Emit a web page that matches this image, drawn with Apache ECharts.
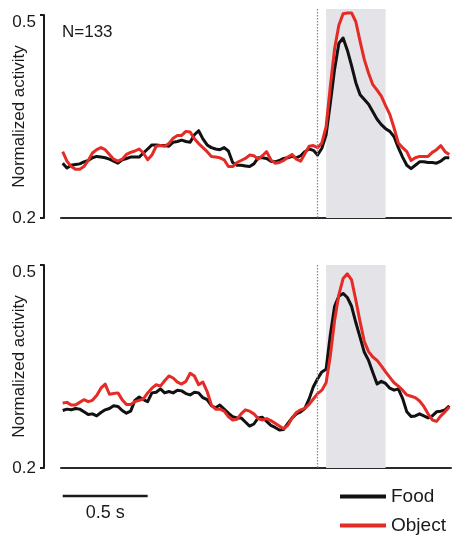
<!DOCTYPE html>
<html>
<head>
<meta charset="utf-8">
<script src="https://cdn.jsdelivr.net/npm/echarts@6/dist/echarts.min.js"></script>
<style>
  html, body { margin: 0; padding: 0; background: #fff; }
  #chart { width: 455px; height: 535px; }
</style>
</head>
<body>
<div id="chart"></div>
<script>
// Sample times (s) relative to stimulus onset, 25 ms bins
const T_START = -1.5;
const T_STEP = 0.025;
const N_BINS = 92;
const TIME = Array.from({ length: N_BINS }, (_, i) => +(T_START + T_STEP * i).toFixed(3));

// Upper panel (N=133)
const topFood = [
  0.281,0.274,0.278,0.279,0.280,0.283,0.285,0.289,0.291,0.290,
  0.289,0.287,0.284,0.281,0.286,0.288,0.290,0.290,0.290,0.296,
  0.302,0.308,0.308,0.307,0.307,0.306,0.312,0.313,0.315,0.313,
  0.312,0.323,0.329,0.317,0.308,0.304,0.302,0.301,0.304,0.299,
  0.282,0.278,0.278,0.277,0.276,0.280,0.289,0.289,0.288,0.284,
  0.283,0.285,0.288,0.289,0.291,0.289,0.292,0.298,0.302,0.300,
  0.293,0.303,0.323,0.370,0.420,0.458,0.466,0.448,0.425,0.400,
  0.382,0.375,0.368,0.357,0.346,0.338,0.332,0.328,0.320,0.304,
  0.290,0.278,0.273,0.278,0.283,0.283,0.282,0.282,0.281,0.284,
  0.289,0.289
];
const topObject = [
  0.298,0.284,0.276,0.272,0.272,0.276,0.285,0.296,0.301,0.304,
  0.301,0.294,0.287,0.284,0.287,0.294,0.297,0.299,0.302,0.296,
  0.286,0.293,0.306,0.307,0.306,0.310,0.318,0.322,0.322,0.328,
  0.327,0.317,0.310,0.304,0.298,0.291,0.290,0.289,0.286,0.276,
  0.276,0.282,0.285,0.288,0.293,0.292,0.287,0.292,0.298,0.286,
  0.281,0.282,0.285,0.290,0.294,0.287,0.284,0.295,0.306,0.307,
  0.304,0.311,0.335,0.395,0.450,0.485,0.502,0.503,0.503,0.490,
  0.461,0.434,0.414,0.397,0.389,0.380,0.366,0.353,0.333,0.311,
  0.304,0.298,0.285,0.289,0.291,0.291,0.291,0.297,0.301,0.307,
  0.298,0.294
];

// Lower panel
const botFood = [
  0.285,0.287,0.286,0.288,0.287,0.283,0.279,0.280,0.277,0.282,
  0.286,0.288,0.292,0.291,0.285,0.281,0.284,0.300,0.305,0.301,
  0.298,0.311,0.312,0.317,0.311,0.313,0.311,0.315,0.314,0.310,
  0.308,0.312,0.311,0.304,0.301,0.292,0.289,0.293,0.287,0.281,
  0.276,0.274,0.274,0.268,0.262,0.265,0.274,0.275,0.269,0.263,
  0.260,0.256,0.257,0.266,0.274,0.280,0.283,0.288,0.302,0.320,
  0.332,0.342,0.346,0.397,0.439,0.454,0.458,0.452,0.439,0.415,
  0.393,0.371,0.359,0.341,0.324,0.328,0.325,0.318,0.315,0.317,
  0.303,0.283,0.276,0.277,0.280,0.277,0.274,0.277,0.283,0.284,
  0.286,0.292
];
const botObject = [
  0.296,0.297,0.293,0.293,0.297,0.301,0.298,0.300,0.307,0.318,
  0.324,0.309,0.310,0.311,0.301,0.294,0.294,0.298,0.300,0.302,
  0.311,0.318,0.323,0.321,0.329,0.336,0.333,0.327,0.324,0.328,
  0.340,0.336,0.323,0.327,0.313,0.293,0.287,0.287,0.284,0.276,
  0.271,0.272,0.280,0.286,0.284,0.280,0.273,0.271,0.273,0.270,
  0.266,0.262,0.258,0.263,0.274,0.282,0.286,0.288,0.294,0.302,
  0.310,0.315,0.326,0.366,0.418,0.456,0.480,0.487,0.478,0.448,
  0.416,0.387,0.372,0.364,0.359,0.351,0.342,0.334,0.326,0.321,
  0.315,0.308,0.306,0.304,0.299,0.291,0.280,0.271,0.269,0.277,
  0.283,0.290
];

// Axis and annotation values
const Y_MIN = 0.2;
const Y_MAX = 0.5;
const Y_TICKS = [0.2, 0.5];
const TOP_BAND_MAX = 0.509;     // shaded window in the upper panel reaches a little past 0.5
const RESPONSE_WINDOW = [0.05, 0.4];
const ONSET = 0;
const SCALE_BAR = [-1.5, -1.0];
const SCALE_LABEL = '0.5 s';
const N_LABEL = 'N=133';
const SERIES_NAMES = ['Food', 'Object'];

const FONT = '"Liberation Sans", Arial, sans-serif';
const INK = '#1a1a1a';
const FOOD_COLOR = '#111111';
const OBJECT_COLOR = '#e52b25';
const TRACE_WIDTH = 3;

const PX_PER_UNIT = 203 / (Y_MAX - Y_MIN);
const pair = arr => arr.map((v, i) => [TIME[i], v]);

// Visible value axis ("]" shaped, offset to the left of the plot)
function visibleYAxis(gridIndex) {
  return {
    gridIndex,
    type: 'value',
    min: Y_MIN,
    max: Y_MAX,
    interval: 0.3,
    offset: 17,
    name: 'Normalized activity',
    nameLocation: 'middle',
    nameGap: 16,
    nameMoveOverlap: false,
    nameTextStyle: { fontFamily: FONT, fontSize: 17, color: INK },
    axisLine: { show: true, onZero: false, lineStyle: { color: INK, width: 2 } },
    axisTick: { show: true, length: 4, customValues: Y_TICKS, lineStyle: { color: INK, width: 2 } },
    axisLabel: {
      customValues: Y_TICKS,
      margin: 8,
      fontFamily: FONT, fontSize: 17, color: INK, lineHeight: 14,
      // the top label hangs below its tick
      formatter: v => v > 0.4 ? '\n' + v.toFixed(1) : v.toFixed(1)
    },
    splitLine: { show: false }
  };
}

function hiddenYAxis(gridIndex, max) {
  return {
    gridIndex, type: 'value', min: Y_MIN, max: max, show: false,
    axisLine: { show: false, onZero: false }, splitLine: { show: false }
  };
}

function timeAxis(gridIndex, showLine) {
  return {
    gridIndex,
    type: 'value',
    min: -1.51,
    max: 0.785,
    show: showLine,
    axisLine: { show: showLine, onZero: false, lineStyle: { color: '#2a2a2a', width: 2 } },
    axisTick: { show: false },
    axisLabel: { show: false },
    splitLine: { show: false }
  };
}

function panelSeries(idx, food, object, topVal) {
  return [
    {
      name: SERIES_NAMES[0], type: 'line', xAxisIndex: idx, yAxisIndex: idx,
      data: pair(food), showSymbol: false, symbol: 'none', clip: false,
      lineStyle: { color: FOOD_COLOR, width: TRACE_WIDTH, join: 'round' },
      itemStyle: { color: FOOD_COLOR },
      z: 3,
      markArea: {
        silent: true,
        itemStyle: { color: '#e3e3e8' },
        data: [[{ coord: [RESPONSE_WINDOW[0], topVal] }, { coord: [RESPONSE_WINDOW[1], Y_MIN] }]]
      },
      markLine: {
        silent: true, symbol: ['none', 'none'],
        label: { show: false },
        lineStyle: { color: '#8a8a8a', width: 1.3, type: [1.5, 1.5] },
        data: [[{ coord: [ONSET, topVal] }, { coord: [ONSET, Y_MIN] }]]
      }
    },
    {
      name: SERIES_NAMES[1], type: 'line', xAxisIndex: idx, yAxisIndex: idx,
      data: pair(object), showSymbol: false, symbol: 'none', clip: false,
      lineStyle: { color: OBJECT_COLOR, width: TRACE_WIDTH, join: 'round' },
      itemStyle: { color: OBJECT_COLOR },
      z: 4
    }
  ];
}

const chart = echarts.init(document.getElementById('chart'), null, { renderer: 'canvas' });

const G = { left: 61, right: 4, containLabel: false, outerBoundsMode: 'none' };
const topExtra = (TOP_BAND_MAX - Y_MAX) * PX_PER_UNIT;

chart.setOption({
  animation: false,
  backgroundColor: '#ffffff',
  textStyle: { fontFamily: FONT },
  grid: [
    // 0: upper data area (extends slightly above 0.5 so the shaded window fits)
    Object.assign({ top: 15 - topExtra, height: 203 + topExtra }, G),
    // 1: lower panel
    Object.assign({ top: 265, height: 203 }, G),
    // 2: upper panel value axis, spanning exactly 0.2 to 0.5
    Object.assign({ top: 15, height: 203 }, G)
  ],
  xAxis: [timeAxis(0, true), timeAxis(1, true), timeAxis(2, false)],
  yAxis: [hiddenYAxis(0, TOP_BAND_MAX), visibleYAxis(1), visibleYAxis(2)],
  legend: {
    data: SERIES_NAMES,
    orient: 'vertical',
    left: 340,
    top: 487,
    padding: 0,
    icon: 'rect',
    itemWidth: 46,
    itemHeight: 4,
    itemGap: 10,
    itemTextGap: 12,
    selectedMode: false,
    textStyle: { fontFamily: FONT, fontSize: 19, color: INK, lineHeight: 18 }
  },
  series: [
    ...panelSeries(0, topFood, topObject, TOP_BAND_MAX),
    ...panelSeries(1, botFood, botObject, Y_MAX)
  ]
});

// Time scale bar beneath the lower panel, placed from the shared time axis
const x1 = chart.convertToPixel({ xAxisIndex: 1 }, SCALE_BAR[0]);
const x2 = chart.convertToPixel({ xAxisIndex: 1 }, SCALE_BAR[1]);

chart.setOption({
  graphic: [
    {
      type: 'text', left: 62, top: 24,
      style: { text: N_LABEL, font: '17px ' + FONT, fill: INK }
    },
    {
      type: 'line', silent: true,
      shape: { x1: x1, y1: 496, x2: x2, y2: 496 },
      style: { stroke: INK, lineWidth: 2.5 }
    },
    {
      type: 'text', silent: true,
      x: (x1 + x2) / 2, y: 513,
      style: { text: SCALE_LABEL, font: '18px ' + FONT, fill: INK, align: 'center', verticalAlign: 'middle' }
    }
  ]
});
</script>
</body>
</html>
